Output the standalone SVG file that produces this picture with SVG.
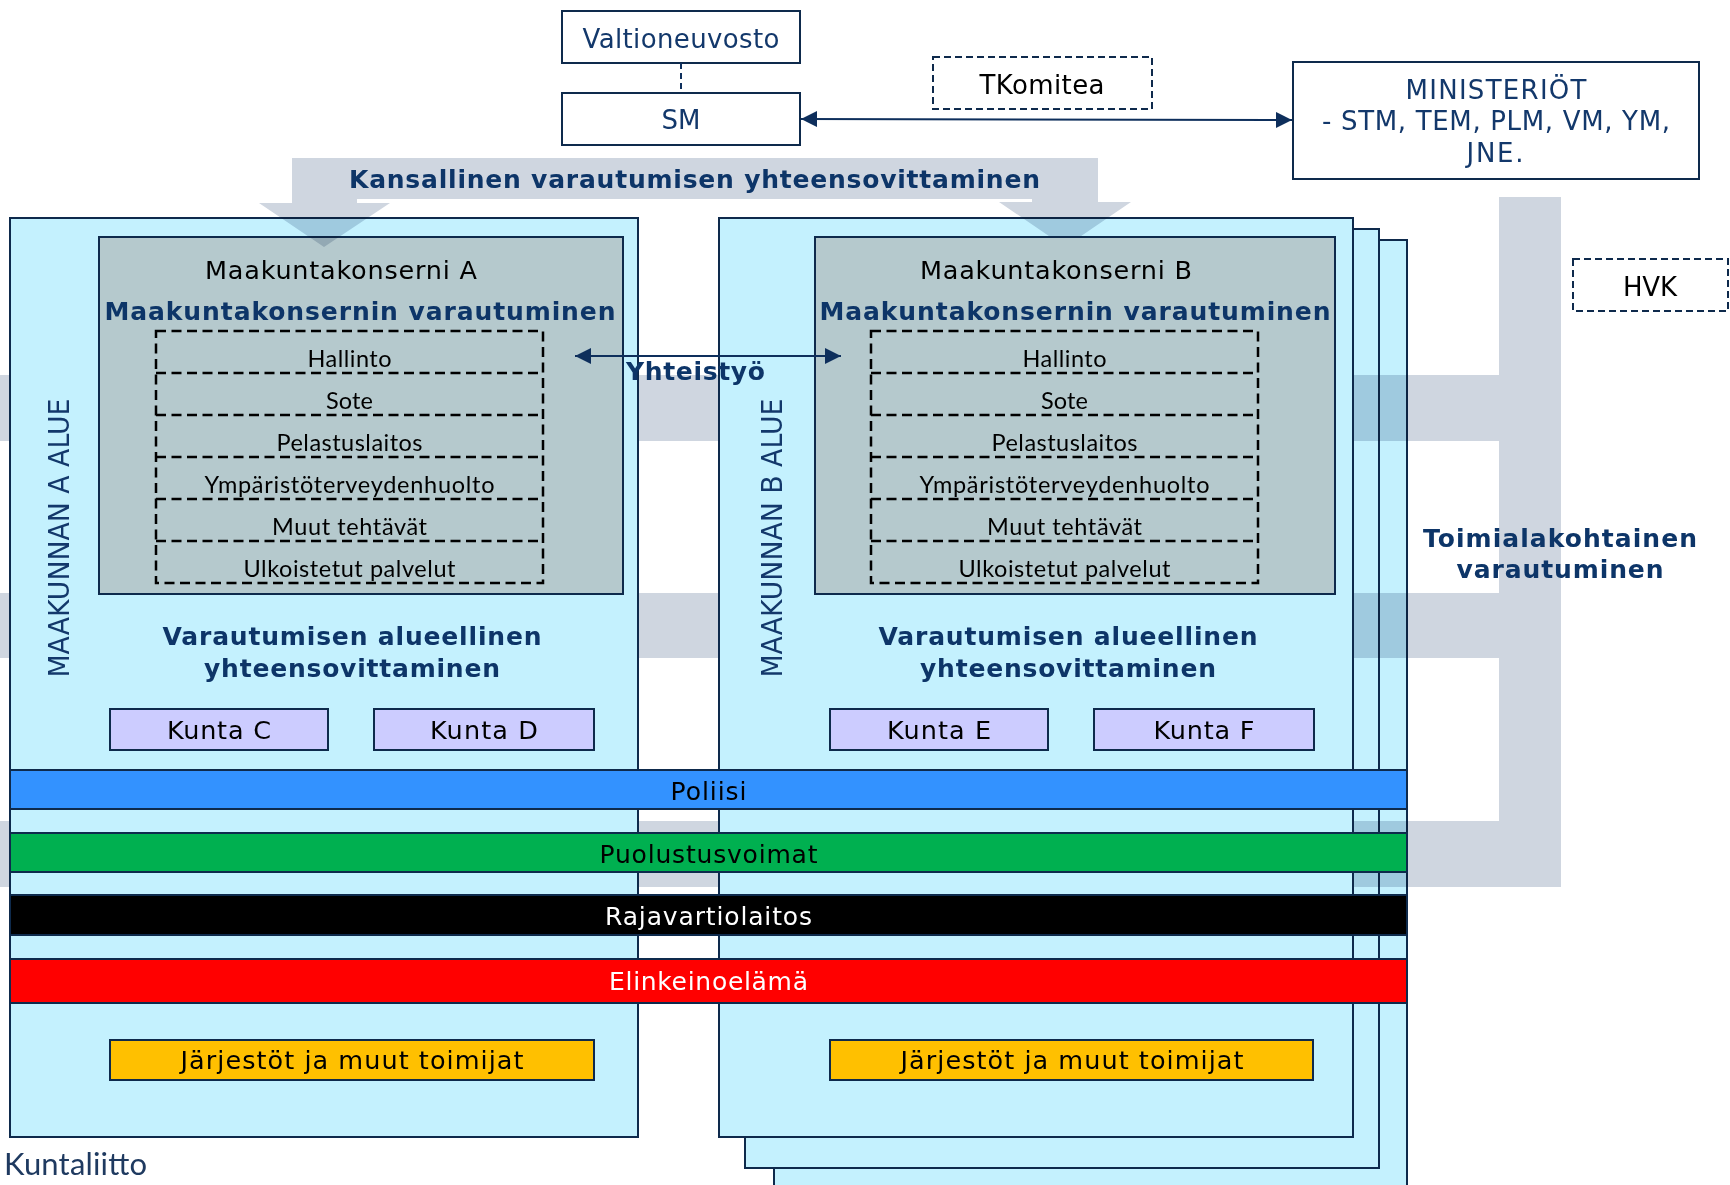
<svg xmlns="http://www.w3.org/2000/svg" width="1730" height="1185" viewBox="0 0 1730 1185">
<defs>
<style>
.reg{fill:#c4f1fe;stroke:#0e2a4c;stroke-width:2}
.gbox{fill:#b5c9cd;stroke:#0e2a4c;stroke-width:2}
.dash{fill:none;stroke:#000;stroke-width:2.5;stroke-dasharray:10 5.5}
.nbox{fill:#fff;stroke:#0e2a4c;stroke-width:2}
.ndash{fill:#fff;stroke:#0e2a4c;stroke-width:2;stroke-dasharray:7 4}
.kunta{fill:#ccccff;stroke:#0e2a4c;stroke-width:2}
.jarj{fill:#ffc000;stroke:#0e2a4c;stroke-width:2}
.bar{stroke:#0e2a4c;stroke-width:2}
.mult{fill:#cfd6e0;mix-blend-mode:multiply}
.t{font-family:"DejaVu Sans","Verdana",sans-serif;text-anchor:middle}
.tb{font-family:"DejaVu Sans","Verdana",sans-serif;font-weight:bold;text-anchor:middle;fill:#0d3568;font-size:25px}
.tc{font-family:Lato,"Open Sans",sans-serif;text-anchor:middle;font-size:23.5px;fill:#000}
.navy{fill:#13386b}
.conn{stroke:#0e2f5c;stroke-width:2;fill:none}
</style>
<marker id="ah" viewBox="0 0 16 16" refX="16" refY="8" markerWidth="16" markerHeight="16" markerUnits="userSpaceOnUse" orient="auto-start-reverse">
<path d="M0,0 L16,8 L0,16 Z" fill="#0e2f5c"/>
</marker>
</defs>

<!-- back pages of region B stack -->
<g id="region-b-stack">
<rect class="reg" x="774" y="240" width="633" height="960"/>
<rect class="reg" x="745" y="229" width="634" height="939"/>
</g>

<!-- toimialakohtainen bands -->
<g id="toimiala-bands">
<path class="mult" d="M0,375 H1499 V197 H1561 V887 H0 V821 H1499 V658 H0 V593 H1499 V441 H0 Z"/>
</g>

<!-- Region A -->
<g id="region-a">
<rect class="reg" x="10" y="218" width="628" height="919"/>
<text class="t navy" transform="translate(69,538) rotate(-90)" font-size="28" textLength="279" lengthAdjust="spacingAndGlyphs">MAAKUNNAN A ALUE</text>
<text class="tb" x="352" y="645" textLength="379">Varautumisen alueellinen</text>
<text class="tb" x="352" y="677" textLength="296">yhteensovittaminen</text>
</g>
<g id="maakuntakonserni-a">
<rect class="gbox" x="99" y="237" width="524" height="357"/>
<text class="t" x="341" y="279" font-size="25.5" textLength="272">Maakuntakonserni A</text>
<text class="tb" x="360" y="320" textLength="511">Maakuntakonsernin varautuminen</text>
<rect class="dash" x="156" y="331" width="387" height="252"/>
<path class="dash" d="M156,373 H543 M156,415 H543 M156,457 H543 M156,499 H543 M156,541 H543"/>
<text class="tc" x="349.5" y="367" textLength="84">Hallinto</text>
<text class="tc" x="349.5" y="409" textLength="47">Sote</text>
<text class="tc" x="349.5" y="451" textLength="146">Pelastuslaitos</text>
<text class="tc" x="349.5" y="493" textLength="290">Ympäristöterveydenhuolto</text>
<text class="tc" x="349.5" y="535" textLength="155">Muut tehtävät</text>
<text class="tc" x="349.5" y="577" textLength="212">Ulkoistetut palvelut</text>
</g>
<g id="kunta-c"><rect class="kunta" x="110" y="709" width="218" height="41"/><text class="t" x="219" y="739" font-size="25.5" textLength="104">Kunta C</text></g>
<g id="kunta-d"><rect class="kunta" x="374" y="709" width="220" height="41"/><text class="t" x="484" y="739" font-size="25.5" textLength="108">Kunta D</text></g>
<g id="jarjestot-a"><rect class="jarj" x="110" y="1040" width="484" height="40"/><text class="t" x="352" y="1069" font-size="25.5" textLength="343">Järjestöt ja muut toimijat</text></g>

<!-- Region B front -->
<g id="region-b">
<rect class="reg" x="719" y="218" width="634" height="919"/>
<text class="t navy" transform="translate(782,538) rotate(-90)" font-size="28" textLength="279" lengthAdjust="spacingAndGlyphs">MAAKUNNAN B ALUE</text>
<text class="tb" x="1068" y="645" textLength="379">Varautumisen alueellinen</text>
<text class="tb" x="1068" y="677" textLength="296">yhteensovittaminen</text>
</g>

<!-- national coordination arrow -->
<g id="kansallinen">
<path class="mult" d="M292,158 H1098 V202 H1131 L1065,247 L999,202 H1032 V199 H357 V203 H390 L324,247 L259,203 H292 Z"/>
<text class="tb" x="694.5" y="188" textLength="691">Kansallinen varautumisen yhteensovittaminen</text>
</g>

<g id="maakuntakonserni-b">
<rect class="gbox" x="815" y="237" width="520" height="357"/>
<text class="t" x="1056" y="279" font-size="25.5" textLength="272">Maakuntakonserni B</text>
<text class="tb" x="1075" y="320" textLength="511">Maakuntakonsernin varautuminen</text>
<rect class="dash" x="871" y="331" width="387" height="252"/>
<path class="dash" d="M871,373 H1258 M871,415 H1258 M871,457 H1258 M871,499 H1258 M871,541 H1258"/>
<text class="tc" x="1064.5" y="367" textLength="84">Hallinto</text>
<text class="tc" x="1064.5" y="409" textLength="47">Sote</text>
<text class="tc" x="1064.5" y="451" textLength="146">Pelastuslaitos</text>
<text class="tc" x="1064.5" y="493" textLength="290">Ympäristöterveydenhuolto</text>
<text class="tc" x="1064.5" y="535" textLength="155">Muut tehtävät</text>
<text class="tc" x="1064.5" y="577" textLength="212">Ulkoistetut palvelut</text>
</g>
<g id="kunta-e"><rect class="kunta" x="830" y="709" width="218" height="41"/><text class="t" x="939" y="739" font-size="25.5" textLength="104">Kunta E</text></g>
<g id="kunta-f"><rect class="kunta" x="1094" y="709" width="220" height="41"/><text class="t" x="1204" y="739" font-size="25.5" textLength="101">Kunta F</text></g>
<g id="jarjestot-b"><rect class="jarj" x="830" y="1040" width="483" height="40"/><text class="t" x="1072" y="1069" font-size="25.5" textLength="343">Järjestöt ja muut toimijat</text></g>

<!-- sector bars -->
<g id="poliisi"><rect class="bar" x="10" y="770" width="1397" height="39" fill="#3392ff"/><text class="t" x="708.5" y="800" font-size="25" textLength="76">Poliisi</text></g>
<g id="puolustusvoimat"><rect class="bar" x="10" y="833" width="1397" height="39" fill="#00b050"/><text class="t" x="708.5" y="863" font-size="25" textLength="218">Puolustusvoimat</text></g>
<g id="rajavartiolaitos"><rect class="bar" x="10" y="895" width="1397" height="40" fill="#000"/><text class="t" x="708.5" y="925" font-size="25" fill="#fff" textLength="207">Rajavartiolaitos</text></g>
<g id="elinkeinoelama"><rect class="bar" x="10" y="959" width="1397" height="44" fill="#ff0000"/><text class="t" x="708.5" y="990" font-size="25" fill="#fff" textLength="199">Elinkeinoelämä</text></g>

<!-- top nodes -->
<g id="valtioneuvosto"><rect class="nbox" x="562" y="11" width="238" height="52"/><text class="t navy" x="681" y="48" font-size="26" textLength="197">Valtioneuvosto</text></g>
<g id="sm"><rect class="nbox" x="562" y="93" width="238" height="52"/><text class="t navy" x="681" y="129" font-size="26" textLength="39">SM</text></g>
<g id="tkomitea"><rect class="ndash" x="933" y="57" width="219" height="52"/><text class="t" x="1042" y="94" font-size="26" textLength="125">TKomitea</text></g>
<g id="ministeriot"><rect class="nbox" x="1293" y="62" width="406" height="117"/>
<text class="t navy" x="1496" y="99" font-size="26" textLength="181">MINISTERIÖT</text>
<text class="t navy" x="1496" y="130" font-size="26" textLength="348">- STM, TEM, PLM, VM, YM,</text>
<text class="t navy" x="1495" y="162" font-size="26" textLength="57">JNE.</text>
</g>
<g id="hvk"><rect class="ndash" x="1573" y="259" width="155" height="52"/><text class="t" x="1650" y="296" font-size="26" textLength="54">HVK</text></g>

<!-- connectors -->
<g id="connectors">
<line x1="681" y1="63" x2="681" y2="93" stroke="#0e2f5c" stroke-width="2" stroke-dasharray="6 4"/>
<line class="conn" x1="801" y1="119" x2="1292" y2="120" marker-start="url(#ah)" marker-end="url(#ah)"/>
<line class="conn" x1="575" y1="356" x2="841" y2="356" marker-start="url(#ah)" marker-end="url(#ah)"/>
</g>

<g id="labels">
<text class="tb" x="695.5" y="380" font-size="26" textLength="139">Yhteistyö</text>
<text class="tb" x="1560" y="547" textLength="274">Toimialakohtainen</text>
<text class="tb" x="1560" y="578" textLength="207">varautuminen</text>
<text x="4" y="1175" font-family="Lato,'Open Sans',sans-serif" font-size="31" fill="#1f3a60" textLength="143">Kuntaliitto</text>
</g>
</svg>
